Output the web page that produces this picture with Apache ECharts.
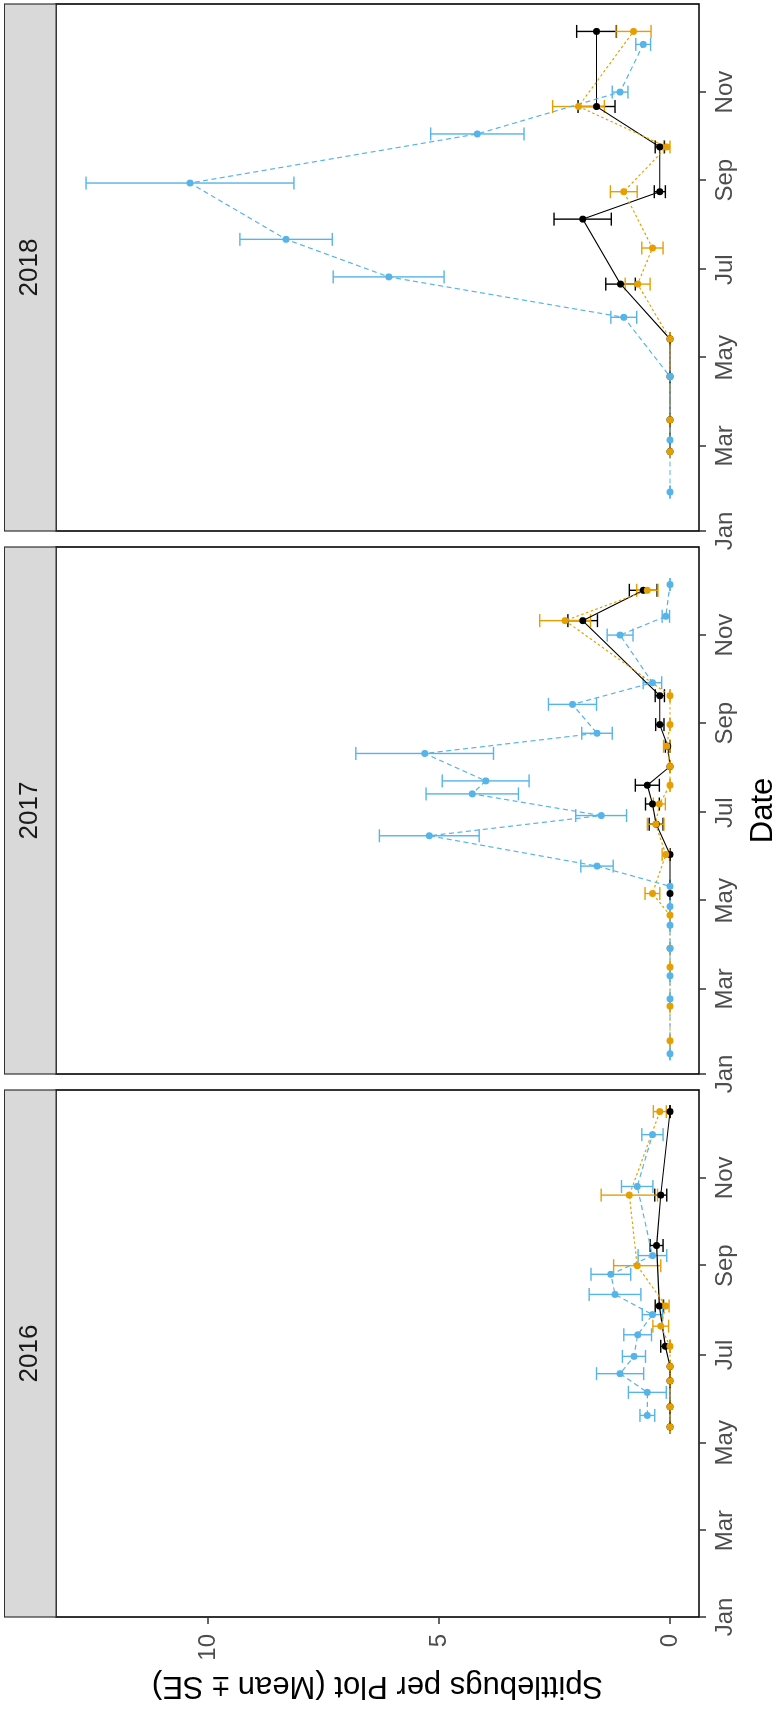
<!DOCTYPE html>
<html>
<head>
<meta charset="utf-8">
<script src="https://cdn.jsdelivr.net/npm/echarts@6/dist/echarts.min.js"></script>
<style>
html,body{margin:0;padding:0;width:781px;height:1711px;overflow:hidden;background:#fff;}
#wrap{position:absolute;left:0;top:0;width:1711px;height:781px;transform-origin:0 0;transform:translate(0px,1711px) rotate(-90deg);}
#chart{width:1711px;height:781px;}
</style>
</head>
<body>
<div id="wrap"><div id="chart"></div></div>
<script>
// ---------- data ----------
const years = [2016, 2017, 2018];
const monthTickLabels = ['Jan', 'Mar', 'May', 'Jul', 'Sep', 'Nov'];
const monthTickIndex = [0, 2, 4, 6, 8, 10];
const valueTicks = [0, 5, 10];

// 2016
const black2016Dates = ['2016-05-12','2016-05-26','2016-06-13','2016-06-23','2016-07-07','2016-08-04','2016-09-15','2016-10-20','2016-12-17'];
const black2016Mean  = [0, 0, 0, 0, 0.10, 0.23, 0.29, 0.20, 0];
const black2016SE    = [0, 0, 0, 0, 0.10, 0.09, 0.14, 0.13, 0];
const orange2016Dates = ['2016-05-12','2016-05-26','2016-06-13','2016-06-23','2016-07-07','2016-07-21','2016-08-04','2016-09-01','2016-10-20','2016-12-17'];
const orange2016Mean  = [0, 0, 0, 0, 0, 0.20, 0.09, 0.71, 0.88, 0.22];
const orange2016SE    = [0, 0, 0, 0, 0, 0.17, 0.07, 0.51, 0.61, 0.14];
const blue2016Dates = ['2016-05-20','2016-06-05','2016-06-18','2016-06-30','2016-07-15','2016-07-29','2016-08-12','2016-08-26','2016-09-08','2016-10-26','2016-12-01'];
const blue2016Mean  = [0.49, 0.49, 1.08, 0.78, 0.70, 0.38, 1.19, 1.28, 0.38, 0.71, 0.38];
const blue2016SE    = [0.16, 0.41, 0.51, 0.25, 0.30, 0.22, 0.56, 0.43, 0.31, 0.34, 0.23];

// 2017
const black2017Dates = ['2017-05-06','2017-06-02','2017-06-23','2017-07-07','2017-07-20','2017-08-02','2017-08-16','2017-08-31','2017-09-20','2017-11-11','2017-12-02'];
const black2017Mean  = [0, 0, 0.30, 0.38, 0.49, 0, 0.05, 0.22, 0.22, 1.89, 0.58];
const black2017SE    = [0, 0, 0.15, 0.15, 0.26, 0, 0.05, 0.09, 0.10, 0.32, 0.30];
const orange2017Dates = ['2017-01-24','2017-02-17','2017-03-16','2017-03-29','2017-04-21','2017-05-06','2017-06-02','2017-06-23','2017-07-07','2017-07-20','2017-08-02','2017-08-16','2017-08-31','2017-09-20','2017-11-11','2017-12-02'];
const orange2017Mean  = [0, 0, 0, 0, 0, 0.38, 0.09, 0.31, 0.23, 0, 0, 0.07, 0, 0, 2.27, 0.49];
const orange2017SE    = [0, 0, 0, 0, 0, 0.16, 0.08, 0.18, 0.13, 0, 0, 0.07, 0, 0, 0.55, 0.23];
const blue2017Dates = ['2017-01-15','2017-02-22','2017-03-10','2017-03-29','2017-04-14','2017-04-27','2017-05-11','2017-05-25','2017-06-15','2017-06-29','2017-07-14','2017-07-23','2017-08-11','2017-08-25','2017-09-14','2017-09-29','2017-11-01','2017-11-14','2017-12-06'];
const blue2017Mean  = [0, 0, 0, 0, 0, 0, 0, 1.58, 5.21, 1.49, 4.28, 3.99, 5.31, 1.58, 2.11, 0.38, 1.08, 0.09, 0];
const blue2017SE    = [0, 0, 0, 0, 0, 0, 0, 0.35, 1.08, 0.55, 1.00, 0.94, 1.49, 0.33, 0.52, 0.20, 0.28, 0.08, 0];

// 2018
const black2018Dates = ['2018-02-25','2018-03-19','2018-04-18','2018-05-14','2018-06-21','2018-08-05','2018-08-24','2018-09-24','2018-10-22','2018-12-13'];
const black2018Mean  = [0, 0, 0, 0, 1.07, 1.89, 0.22, 0.22, 1.59, 1.59];
const black2018SE    = [0, 0, 0, 0, 0.32, 0.62, 0.12, 0.10, 0.40, 0.43];
const orange2018Dates = ['2018-02-25','2018-03-19','2018-04-18','2018-05-14','2018-06-21','2018-07-16','2018-08-24','2018-09-24','2018-10-22','2018-12-13'];
const orange2018Mean  = [0, 0, 0, 0, 0.70, 0.38, 1.00, 0.07, 1.98, 0.79];
const orange2018SE    = [0, 0, 0, 0, 0.27, 0.23, 0.29, 0.07, 0.56, 0.38];
const blue2018Dates = ['2018-01-28','2018-03-05','2018-04-18','2018-05-29','2018-06-26','2018-07-22','2018-08-30','2018-10-03','2018-11-01','2018-12-04'];
const blue2018Mean  = [0, 0, 0, 1.00, 6.09, 8.31, 10.39, 4.17, 1.08, 0.58];
const blue2018SE    = [0, 0, 0, 0.28, 1.20, 1.00, 2.25, 1.01, 0.17, 0.16];

// ---------- layout / style ----------
const FONT = '"Liberation Sans", Arial, Helvetica, sans-serif';
const gridLeft = [94, 637, 1180];
const gridW = 527, gridTop = 56, gridH = 643, stripTop = 4.5;
const yMin = -0.628, yMax = 13.29;

const groups = [
  {color: '#000000', dash: 'solid', width: 1.1, sets: {
    2016: [black2016Dates, black2016Mean, black2016SE],
    2017: [black2017Dates, black2017Mean, black2017SE],
    2018: [black2018Dates, black2018Mean, black2018SE]}},
  {color: '#E69F00', dash: [2.5, 2.5], width: 1.2, sets: {
    2016: [orange2016Dates, orange2016Mean, orange2016SE],
    2017: [orange2017Dates, orange2017Mean, orange2017SE],
    2018: [orange2018Dates, orange2018Mean, orange2018SE]}},
  {color: '#56B4E9', dash: [5, 3.5], width: 1.2, sets: {
    2016: [blue2016Dates, blue2016Mean, blue2016SE],
    2017: [blue2017Dates, blue2017Mean, blue2017SE],
    2018: [blue2018Dates, blue2018Mean, blue2018SE]}}
];

const grids = [], xAxes = [], yAxes = [], lineSeries = [], errSeries = [];
years.forEach((yr, i) => {
  grids.push({left: gridLeft[i], top: gridTop, width: gridW, height: gridH,
    show: true, borderColor: '#000', borderWidth: 1.6, backgroundColor: '#fff'});
  const tickVals = monthTickIndex.map(m => Date.UTC(yr, m, 1));
  xAxes.push({type: 'value', gridIndex: i, position: 'bottom', min: Date.UTC(yr, 0, 1), max: Date.UTC(yr + 1, 0, 1),
    axisLine: {show: false, onZero: false}, splitLine: {show: false},
    axisTick: {show: true, length: 7, lineStyle: {color: '#333', width: 1.5}, customValues: tickVals},
    axisLabel: {show: true, customValues: tickVals, margin: 14, fontSize: 24, color: '#4D4D4D', fontFamily: FONT,
      formatter: v => { const k = tickVals.indexOf(v); return k >= 0 ? monthTickLabels[k] : ''; }}});
  yAxes.push({type: 'value', gridIndex: i, position: 'left', min: yMin, max: yMax,
    axisLine: {show: false, onZero: false}, splitLine: {show: false},
    axisTick: {show: i === 0, length: 7, lineStyle: {color: '#333', width: 1.5}, customValues: valueTicks},
    axisLabel: {show: i === 0, customValues: valueTicks, margin: 17, fontSize: 24, color: '#4D4D4D', fontFamily: FONT}});
  groups.forEach(g => {
    const [dates, means, ses] = g.sets[yr];
    lineSeries.push({type: 'line', xAxisIndex: i, yAxisIndex: i,
      data: dates.map((d, k) => [Date.parse(d), means[k]]),
      symbol: 'circle', symbolSize: 7, showSymbol: true,
      lineStyle: {color: g.color, width: g.width, type: g.dash},
      itemStyle: {color: g.color}, animation: false, silent: true});
    errSeries.push({type: 'custom', xAxisIndex: i, yAxisIndex: i,
      data: dates.map((d, k) => [Date.parse(d), means[k] - ses[k], means[k] + ses[k]]),
      encode: {x: 0, y: [1, 2]}, animation: false, silent: true,
      renderItem: (params, api) => {
        const x = api.value(0);
        const lo = api.coord([x, api.value(1)]);
        const hi = api.coord([x, api.value(2)]);
        const hw = 6.5;
        const st = {stroke: g.color, lineWidth: 1.4};
        return {type: 'group', children: [
          {type: 'line', shape: {x1: lo[0], y1: lo[1], x2: hi[0], y2: hi[1]}, style: st},
          {type: 'line', shape: {x1: lo[0] - hw, y1: lo[1], x2: lo[0] + hw, y2: lo[1]}, style: st},
          {type: 'line', shape: {x1: hi[0] - hw, y1: hi[1], x2: hi[0] + hw, y2: hi[1]}, style: st}
        ]};
      }});
  });
});

const graphics = [];
years.forEach((yr, i) => {
  graphics.push({type: 'rect', z: 10, shape: {x: gridLeft[i], y: stripTop, width: gridW, height: gridTop - stripTop},
    style: {fill: '#D9D9D9', stroke: '#333', lineWidth: 1.2}});
  graphics.push({type: 'text', z: 11, x: gridLeft[i] + gridW / 2, y: (stripTop + gridTop) / 2,
    style: {text: String(yr), fontSize: 26, fontFamily: FONT, fill: '#1A1A1A',
      align: 'center', verticalAlign: 'middle', textAlign: 'center', textVerticalAlign: 'middle'}});
});
graphics.push({type: 'text', x: gridLeft[0] + (gridLeft[2] + gridW - gridLeft[0]) / 2, y: 763,
  style: {text: 'Date', fontSize: 31, fontFamily: FONT, fill: '#000',
    align: 'center', verticalAlign: 'middle', textAlign: 'center', textVerticalAlign: 'middle'}});
graphics.push({type: 'text', x: 25, y: gridTop + gridH / 2, rotation: Math.PI / 2,
  style: {text: 'Spittlebugs per Plot (Mean \u00B1 SE)', fontSize: 31, fontFamily: FONT, fill: '#000',
    align: 'center', verticalAlign: 'middle', textAlign: 'center', textVerticalAlign: 'middle'}});

const chart = echarts.init(document.getElementById('chart'), null, {width: 1711, height: 781, renderer: 'canvas'});
chart.setOption({
  animation: false,
  backgroundColor: '#fff',
  grid: grids, xAxis: xAxes, yAxis: yAxes,
  series: lineSeries.concat(errSeries),
  graphic: graphics
});
</script>
</body>
</html>
